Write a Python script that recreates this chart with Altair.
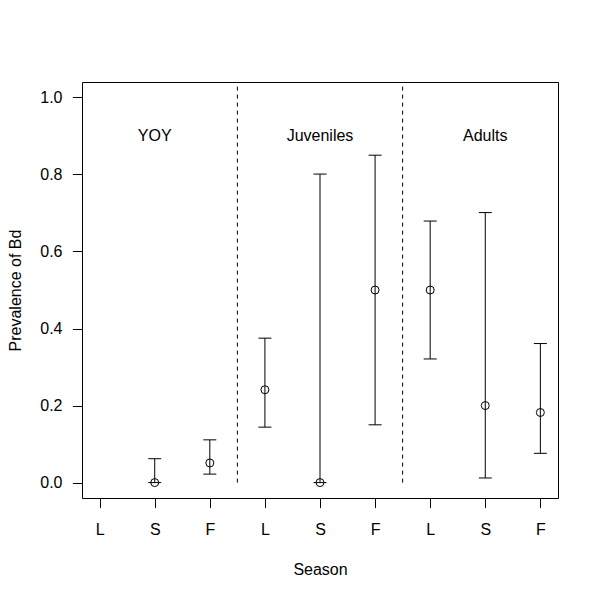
import altair as alt
import pandas as pd

# ---- data ----
seasons = ["L", "S", "F", "L", "S", "F", "L", "S", "F"]
position = [1, 2, 3, 4, 5, 6, 7, 8, 9]
prevalence = [None, 0.0, 0.051, 0.241, 0.0, 0.5, 0.5, 0.2, 0.182]
lower = [None, 0.0, 0.022, 0.144, 0.0, 0.150, 0.321, 0.012, 0.076]
upper = [None, 0.062, 0.111, 0.375, 0.801, 0.850, 0.679, 0.701, 0.361]

groups = ["YOY", "Juveniles", "Adults"]
group_center = [2, 5, 8]
group_label_y = [0.9, 0.9, 0.9]
dividers = [3.5, 6.5]
y_ticks = [0.0, 0.2, 0.4, 0.6, 0.8, 1.0]

FONT = "Liberation Sans"

df = pd.DataFrame({"pos": position, "season": seasons, "p": prevalence,
                   "lo": lower, "hi": upper}).dropna()
gdf = pd.DataFrame({"x": group_center, "y": group_label_y, "label": groups})
ddf = pd.DataFrame({"x": dividers, "y0": [0.0] * len(dividers)})

xs = alt.Scale(domain=[0.68, 9.32], nice=False, zero=False)
ys = alt.Scale(domain=[-0.04, 1.04], nice=False, zero=False)

label_expr = "[" + ",".join("'%s'" % s for s in seasons) + "][datum.value - 1]"

x_axis = alt.Axis(values=position, labelExpr=label_expr, title="Season",
                  grid=False, domain=False, tickSize=9.6, tickColor="black",
                  labelColor="black", labelFontSize=16, labelFont=FONT,
                  labelBaseline="alphabetic", labelPadding=26.5,
                  titleFontSize=16, titleFont=FONT, titleFontWeight="normal",
                  titleColor="black", titleBaseline="alphabetic",
                  titleX=238, titleY=76)
y_axis = alt.Axis(values=y_ticks, format=".1f", title="Prevalence of Bd",
                  grid=False, domain=False, tickSize=9.6, tickColor="black",
                  labelColor="black", labelFontSize=16, labelFont=FONT,
                  labelAngle=0, labelPadding=10.4, labelAlign="right",
                  titleFontSize=16, titleFont=FONT, titleFontWeight="normal",
                  titleColor="black", titleAngle=-90, titleBaseline="alphabetic",
                  titleAlign="center", titleX=-62, titleY=208)

bars = alt.Chart(df).mark_rule(color="black", strokeWidth=1).encode(
    x=alt.X("pos:Q", scale=xs, axis=x_axis),
    y=alt.Y("lo:Q", scale=ys, axis=y_axis),
    y2="hi:Q",
)
cap_hi = alt.Chart(df).mark_tick(orient="horizontal", size=13, thickness=1,
                                 color="black", opacity=1).encode(
    x=alt.X("pos:Q", scale=xs), y=alt.Y("hi:Q", scale=ys))
cap_lo = alt.Chart(df).mark_tick(orient="horizontal", size=13, thickness=1,
                                 color="black", opacity=1).encode(
    x=alt.X("pos:Q", scale=xs), y=alt.Y("lo:Q", scale=ys))
pts = alt.Chart(df).mark_point(shape="circle", size=64, filled=False,
                               color="black", strokeWidth=1, opacity=1).encode(
    x=alt.X("pos:Q", scale=xs), y=alt.Y("p:Q", scale=ys))
divs = alt.Chart(ddf).mark_rule(color="black", strokeWidth=1,
                                strokeDash=[4, 4]).encode(
    x=alt.X("x:Q", scale=xs), y=alt.Y("y0:Q", scale=ys), y2=alt.value(0))
labels = alt.Chart(gdf).mark_text(font=FONT, fontSize=16, color="black",
                                  align="center", baseline="middle").encode(
    x=alt.X("x:Q", scale=xs), y=alt.Y("y:Q", scale=ys), text="label:N")

chart = alt.layer(divs, bars, cap_hi, cap_lo, pts, labels).properties(
    width=476, height=416,
    autosize=alt.AutoSizeParams(type="none"),
    padding={"left": 74, "top": 74, "right": 30, "bottom": 90},
    background="white",
).configure(font=FONT).configure_view(stroke="black", strokeWidth=1)

chart.save("out.html", embed_options={"renderer": "svg", "actions": False})
